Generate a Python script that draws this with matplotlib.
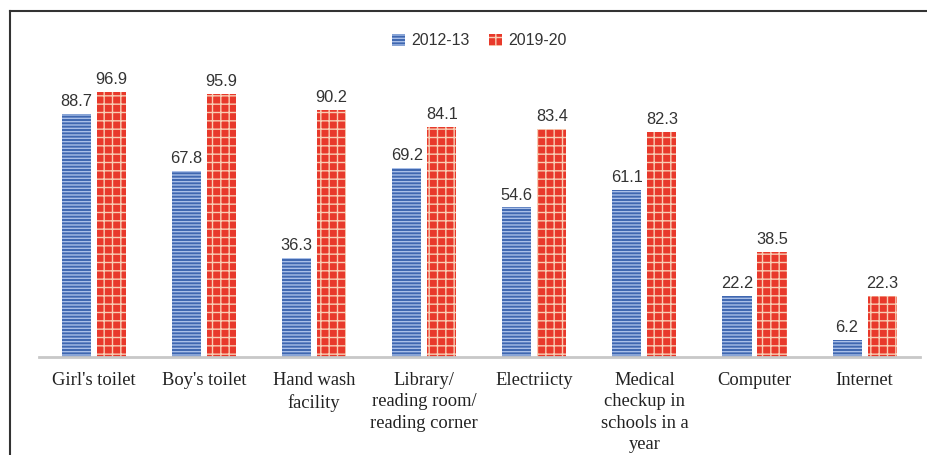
"""Bar chart: school facilities 2012-13 vs 2019-20."""
import matplotlib

matplotlib.use("Agg")
import matplotlib.pyplot as plt
import numpy as np
from matplotlib.lines import Line2D

categories = [
    "Girl's toilet",
    "Boy's toilet",
    "Hand wash\nfacility",
    "Library/\nreading room/\nreading corner",
    "Electriicty",
    "Medical\ncheckup in\nschools in a\nyear",
    "Computer",
    "Internet",
]
series_names = ["2012-13", "2019-20"]
vals_2012 = [88.7, 67.8, 36.3, 69.2, 54.6, 61.1, 22.2, 6.2]
vals_2019 = [96.9, 95.9, 90.2, 84.1, 83.4, 82.3, 38.5, 22.3]

plt.rcParams["hatch.linewidth"] = 1.0

fig = plt.figure(figsize=(9.28, 4.55), dpi=100)
ax = fig.add_axes([0.042, 0.2154, 0.949, 0.662])

x = np.arange(len(categories))
w = 0.264
off = 0.159

b1 = ax.bar(x - off, vals_2012, w, facecolor="#3f67b0", edgecolor="#a9bfe8",
            linewidth=0, hatch="-----", label=series_names[0])
b2 = ax.bar(x + off, vals_2019, w, facecolor="#e8392b", edgecolor="#f8cdb4",
            linewidth=0, hatch="++", label=series_names[1])

lab_font = dict(family="Liberation Sans", fontsize=11.8, color="#333333")
for bars, vals in ((b1, vals_2012), (b2, vals_2019)):
    for r, v in zip(bars, vals):
        ax.text(r.get_x() + r.get_width() / 2, v + 1.8, f"{v:.1f}",
                ha="center", va="bottom", **lab_font)

ax.set_xlim(-0.5, len(categories) - 0.5)
ax.set_ylim(0, 110)
ax.set_yticks([])
ax.set_xticks(x)
ax.set_xticklabels(categories, family="Liberation Serif", fontsize=13.3,
                   color="#222222", linespacing=1.32, va="top")
ax.tick_params(axis="x", length=0, pad=11)
for s in ("top", "right", "left"):
    ax.spines[s].set_visible(False)
ax.spines["bottom"].set_color("#c8c8c8")
ax.spines["bottom"].set_linewidth(2)

leg = ax.legend(loc="center", bbox_to_anchor=(0.5, 1.05), ncol=2,
                frameon=False, prop=dict(family="Liberation Sans", size=11.5),
                handlelength=0.8, handleheight=0.8, columnspacing=1.2,
                handletextpad=0.4)
for t in leg.get_texts():
    t.set_color("#333333")

# figure frame (left and top edges)
fig.add_artist(Line2D([10 / 928, 10 / 928], [0, 1 - 11 / 455],
                      transform=fig.transFigure, color="#333333", lw=1.5))
fig.add_artist(Line2D([10 / 928, 1], [1 - 11 / 455, 1 - 11 / 455],
                      transform=fig.transFigure, color="#333333", lw=1.5))

fig.savefig("out.png", dpi=100)
